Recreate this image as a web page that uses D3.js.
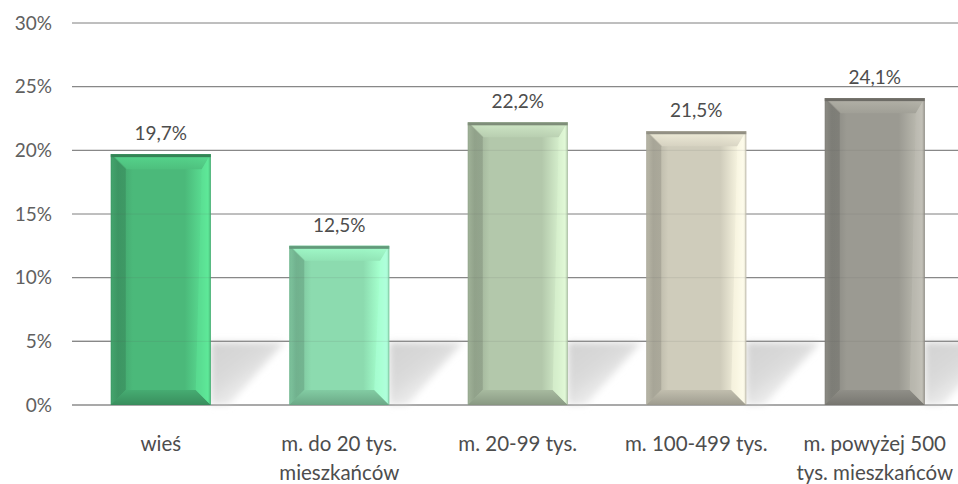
<!DOCTYPE html>
<html lang="pl">
<head>
<meta charset="utf-8">
<script src="https://cdn.jsdelivr.net/npm/d3@7"></script>
<style>
  html, body { margin: 0; padding: 0; background: #fff; }
  svg { display: block; font-family: Lato, "Open Sans", sans-serif; }
</style>
</head>
<body>
<svg id="chart" width="958" height="484"></svg>
<script>
// Odsetek wg klasy miejscowości zamieszkania
const categories = ["wieś", "m. do 20 tys. mieszkańców", "m. 20-99 tys.", "m. 100-499 tys.", "m. powyżej 500 tys. mieszkańców"];
const categoryLines = [["wieś"], ["m. do 20 tys.", "mieszkańców"], ["m. 20-99 tys."], ["m. 100-499 tys."], ["m. powyżej 500", "tys. mieszkańców"]];
const values = [19.7, 12.5, 22.2, 21.5, 24.1];
const barColors = ["#4bb97a", "#8cdbaf", "#b3c8ab", "#cfccbb", "#9b9a92"];
const yTicks = [0, 5, 10, 15, 20, 25, 30];

const W = 958, H = 484;
const svg = d3.select("#chart");
const defs = svg.append("defs");

const x = d3.scaleBand().domain(categories).range([71.5, 964]).paddingInner(0.44).paddingOuter(0.22);
const y = d3.scaleLinear().domain([0, 30]).range([405, 23]);
const fmt = v => d3.format(".1f")(v).replace(".", ",") + "%";
const pct = v => v + "%";

// soft floor shadows
defs.append("filter").attr("id", "soft").attr("x", "-20%").attr("y", "-20%").attr("width", "140%").attr("height", "140%")
  .append("feGaussianBlur").attr("stdDeviation", 3.5);
const sg = defs.append("linearGradient").attr("id", "shadowGrad")
  .attr("x1", "0").attr("y1", "0").attr("x2", "0.9").attr("y2", "1");
sg.append("stop").attr("offset", "0").attr("stop-color", "#d2d2d2");
sg.append("stop").attr("offset", "0.4").attr("stop-color", "#dadada");
sg.append("stop").attr("offset", "0.75").attr("stop-color", "#f2f2f2");
sg.append("stop").attr("offset", "1").attr("stop-color", "#ffffff").attr("stop-opacity", 0);

// gridlines (under the bars)
const grid = svg.append("g");
grid.selectAll("line").data(yTicks).join("line")
  .attr("x1", 72).attr("x2", W)
  .attr("y1", d => y(d)).attr("y2", d => y(d))
  .attr("stroke", "#8e8e8e").attr("stroke-width", 1.2);

const shadows = svg.append("g").attr("filter", "url(#soft)");
shadows.selectAll("path").data(values).join("path")
  .attr("d", (d, i) => {
    const x1 = x(categories[i]) + x.bandwidth();
    const t = y(5) + 1, b = y(0);
    return `M${x1},${t}L${x1 + 74},${t}L${x1 + 18},${b}L${x1},${b}Z`;
  })
  .attr("fill", "url(#shadowGrad)");

// redraw the 5% and 0% lines over the shadows
svg.append("g").selectAll("line").data([0, 5]).join("line")
  .attr("x1", 72).attr("x2", W)
  .attr("y1", d => y(d)).attr("y2", d => y(d))
  .attr("stroke", "#8e8e8e").attr("stroke-width", 1.2).attr("opacity", 0.8);

// bevelled bars
const bars = svg.append("g");
function grad(id, dir, stops) {
  const g = defs.append("linearGradient").attr("id", id)
    .attr("x1", 0).attr("y1", 0).attr("x2", dir === "h" ? 1 : 0).attr("y2", dir === "h" ? 0 : 1);
  stops.forEach(([o, c, op]) => g.append("stop").attr("offset", o).attr("stop-color", c).attr("stop-opacity", op == null ? 1 : op));
  return `url(#${id})`;
}
values.forEach((v, i) => {
  const base = d3.color(barColors[i]);
  const x0 = x(categories[i]), bw = x.bandwidth(), x1 = x0 + bw;
  const yt = y(v), yb = y(0);
  const bv = 15;
  const face = grad("face" + i, "h", [[0, base.darker(0.25)], [0.07, base.darker(0.4)], [0.22, base], [0.74, base], [0.9, base.brighter(0.45)], [0.97, base.brighter(0.75)], [1, base.darker(0.3)]]);
  const topB = grad("top" + i, "v", [[0, base.brighter(0.45)], [1, base.brighter(0.1)]]);
  const botB = grad("bot" + i, "v", [[0, base.darker(0.2)], [1, base.darker(0.75)]]);
  const leftB = grad("left" + i, "h", [[0, "#000", 0.02], [1, "#000", 0.12]]);

  const bg = bars.append("g");
  bg.append("rect").attr("x", x0).attr("y", yt).attr("width", bw).attr("height", yb - yt)
    .attr("fill", face);
  // top bevel
  bg.append("path").attr("d", `M${x0},${yt}L${x1},${yt}L${x1 - bv * 0.6},${yt + bv}L${x0 + bv},${yt + bv}Z`)
    .attr("fill", topB).attr("opacity", 0.9);
  // left bevel
  bg.append("path").attr("d", `M${x0},${yt}L${x0 + bv},${yt + bv}L${x0 + bv},${yb - bv}L${x0},${yb}Z`)
    .attr("fill", leftB);
  // bottom bevel
  bg.append("path").attr("d", `M${x0},${yb}L${x0 + bv},${yb - bv}L${x1 - bv},${yb - bv}L${x1},${yb}Z`)
    .attr("fill", botB);
  // right bevel
  bg.append("path").attr("d", `M${x1},${yt}L${x1 - bv * 0.6},${yt + bv}L${x1 - bv},${yb - bv}L${x1},${yb}Z`)
    .attr("fill", base.brighter(0.55)).attr("opacity", 0.6);
  // top-left diagonal crease
  bg.append("line").attr("x1", x0 + 1).attr("y1", yt + 1).attr("x2", x0 + bv).attr("y2", yt + bv)
    .attr("stroke", base.darker(0.6)).attr("stroke-width", 1.5).attr("opacity", 0.5);
  // top edge
  bg.append("rect").attr("x", x0).attr("y", yt).attr("width", bw).attr("height", 3)
    .attr("fill", base.darker(1.0));
  // outline
  bg.append("rect").attr("x", x0 + 0.5).attr("y", yt + 0.5).attr("width", bw - 1).attr("height", yb - yt - 1)
    .attr("fill", "none").attr("stroke", base.darker(0.7)).attr("stroke-width", 1).attr("opacity", 0.45);
});

// gridlines faintly visible through the bars
svg.append("g").selectAll("line").data(yTicks).join("line")
  .attr("x1", 72).attr("x2", W)
  .attr("y1", d => y(d)).attr("y2", d => y(d))
  .attr("stroke", "#555").attr("stroke-width", 1).attr("opacity", 0.12);

// value labels
svg.append("g").selectAll("text").data(values).join("text")
  .attr("x", (d, i) => x(categories[i]) + x.bandwidth() / 2)
  .attr("y", d => y(d) - 14)
  .attr("text-anchor", "middle")
  .attr("font-size", 19).attr("fill", "#4d4d4d")
  .text(fmt);

// y axis labels
svg.append("g").selectAll("text").data(yTicks).join("text")
  .attr("x", 52).attr("y", d => y(d)).attr("dy", "0.35em")
  .attr("text-anchor", "end")
  .attr("font-size", 19).attr("fill", "#606060")
  .text(pct);

// category labels
const cl = svg.append("g").selectAll("text").data(categories).join("text")
  .attr("x", d => x(d) + x.bandwidth() / 2)
  .attr("y", 451)
  .attr("text-anchor", "middle")
  .attr("font-size", 20.5).attr("fill", "#4d4d4d");
cl.each(function(d, i) {
  d3.select(this).selectAll("tspan").data(categoryLines[i]).join("tspan")
    .attr("x", x(d) + x.bandwidth() / 2)
    .attr("dy", (t, j) => j === 0 ? 0 : 29)
    .text(t => t);
});
</script>
</body>
</html>
